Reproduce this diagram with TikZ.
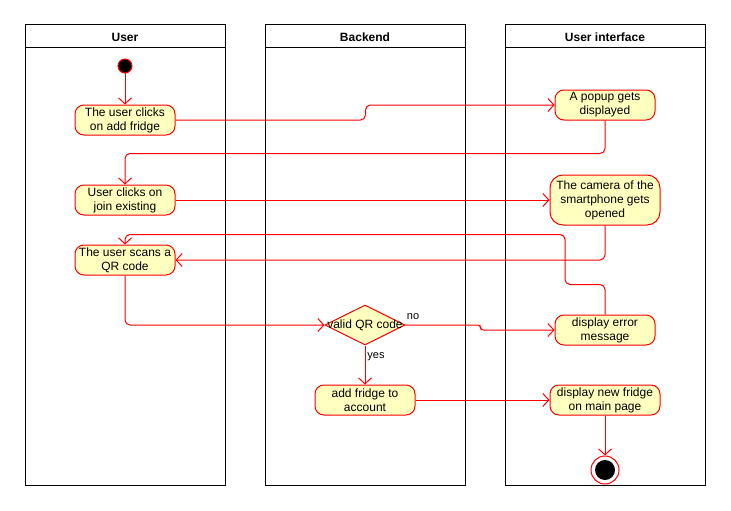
\documentclass[tikz,border=0pt]{standalone}
\usepackage{fontspec}
\setmainfont{Liberation Sans}
\usetikzlibrary{arrows.meta,shapes.geometric}
\definecolor{rd}{HTML}{FF0000}
\definecolor{yl}{HTML}{FFFFC0}
\tikzset{
  lane/.style={draw=black,line width=1pt},
  hdr/.style={font=\bfseries\fontsize{12}{14}\selectfont},
  act/.style={draw=rd,fill=yl,line width=1pt,rounded corners=9pt,minimum width=100pt,minimum height=30pt,align=center,inner sep=1pt,font=\fontsize{12}{14}\selectfont},
  dia/.style={draw=rd,fill=yl,line width=1pt,diamond,minimum width=80pt,minimum height=40pt,inner sep=0pt},
  conn/.style={draw=rd,line width=1pt,rounded corners=5pt,-{Straight Barb[length=6pt,width=13pt]}},
  lbl/.style={font=\fontsize{11}{13}\selectfont},
  txt/.style={font=\fontsize{12}{14}\selectfont},
  startc/.style={circle,draw=rd,fill=black,line width=1pt,minimum size=14pt,inner sep=0pt},
  endc/.style={circle,draw=rd,fill=white,line width=1pt,minimum size=28pt,inner sep=0pt}
}
\begin{document}
\begin{tikzpicture}[x=1pt,y=-1pt]
\useasboundingbox (0,0) rectangle (731,511);
% lanes
\draw[lane] (25,25) rectangle (225,485); \draw[lane] (25,48) -- (225,48);
\draw[lane] (265,25) rectangle (465,485); \draw[lane] (265,48) -- (465,48);
\draw[lane] (505,25) rectangle (705,485); \draw[lane] (505,48) -- (705,48);
\node[hdr] (h1) at (125,37) {User};
\node[hdr] (h2) at (365,37) {Backend};
\node[hdr] (h3) at (605,37) {User interface};
% nodes
\node[startc] (st) at (125,66) {};
\node[act] (a1) at (125,120) {The user clicks\\on add fridge};
\node[act] (p) at (605,105) {A popup gets\\displayed};
\node[act] (j) at (125,200) {User clicks on\\join existing};
\node[act,minimum width=110pt,minimum height=50pt,rounded corners=13pt] (c) at (605,200) {The camera of the\\smartphone gets\\opened};
\node[act] (s) at (125,260) {The user scans a\\QR code};
\node[dia] (d) at (365,325) {};
\node[txt] (dt) at (365,325) {valid QR code};
\node[act] (e) at (605,330) {display error\\message};
\node[act] (f) at (365,400) {add fridge to\\account};
\node[act,minimum width=110pt] (n) at (605,400) {display new fridge\\on main page};
\node[endc] (en) at (605,470) {};
\fill[black] (en.center) circle (10);
% connectors
\draw[conn] (st) -- (a1);
\draw[conn] (a1.east) -- ++(190,0) |- (p.west);
\draw[conn] (p.south) -- ++(0,33) -| (j.north);
\draw[conn] (j.east) -- (c.west);
\draw[conn] (c.south) |- (s.east);
\draw[conn] (e.north) -- ++(0,-30) -- ++(-40,0) -- ++(0,-50) -| (s.north);
\draw[conn] (s.south) |- (d.west);
\draw[conn,rounded corners=3pt] (d.east) -- ++(75,0) -- ++(0,5) -- (e.west);
\node[lbl] (no) at (413,317) {no};
\draw[conn] (d.south) -- (f.north);
\node[lbl] (yes) at (376,357) {yes};
\draw[conn] (f.east) -- (n.west);
\draw[conn] (n.south) -- (en.north);
\end{tikzpicture}
\end{document}
